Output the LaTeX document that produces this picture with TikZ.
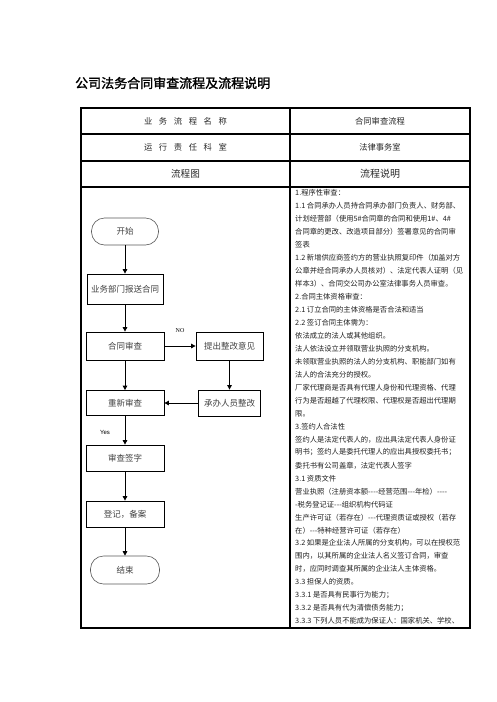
\documentclass[tikz,border=0pt]{standalone}
\usepackage{fontspec}
\setmainfont{Noto Sans CJK SC}[Ligatures=TeXOff]
\newfontfamily\titlefont[FakeBold=1.6]{Noto Sans CJK SC}
\newfontfamily\serifl{Liberation Serif}
\newfontfamily\sansl{Liberation Sans}
\usetikzlibrary{arrows.meta}
\newcommand{\gx}{\hspace{6.6pt}}
\begin{document}
\begin{tikzpicture}[x=1pt,y=-1pt,
  tbl/.style={line width=1.1pt},
  hdr/.style={inner sep=0pt, text=black!85, font=\fontsize{8.3}{10}\selectfont},
  box/.style={draw, line width=0.8pt, minimum width=78pt, minimum height=26pt, inner sep=0pt, text=black!75, font=\fontsize{8.5}{10}\selectfont},
  term/.style={draw=black!65, line width=0.6pt, rounded corners=13pt, minimum width=67pt, minimum height=27pt, inner sep=0pt, text=black!75, font=\fontsize{8.5}{10}\selectfont},
  arr/.style={-{Triangle[length=4.5pt,width=4.5pt]}, line width=0.9pt},
  desc/.style={anchor=west, inner sep=0pt, text=black!88, font=\fontsize{7.3}{9}\selectfont},
  lbl/.style={inner sep=0pt, font=\fontsize{6}{7}\selectfont}]
\useasboundingbox (0,0) rectangle (496,702);

% title
\node[anchor=west, inner sep=0pt, font=\fontsize{13}{15}\titlefont] (title) at (75,83) {公司法务合同审查流程及流程说明};

% table frame
\draw[tbl] (81,108) rectangle (470,628);
\draw[tbl] (81,134) -- (470,134);
\draw[tbl] (81,161) -- (470,161);
\draw[tbl] (81,187) -- (470,187);
\draw[tbl] (290,108) -- (290,628);

% header texts
\node[hdr] (h1) at (185.5,121) {业\gx 务\gx 流\gx 程\gx 名\gx 称};
\node[hdr] (h2) at (185.5,147.5) {运\gx 行\gx 责\gx 任\gx 科\gx 室};
\node[hdr, font=\fontsize{9.6}{11}\selectfont] (h3) at (185.5,174) {流程图};
\node[hdr] (r1) at (380,121) {合同审查流程};
\node[hdr] (r2) at (380,147.5) {法律事务室};
\node[hdr, font=\fontsize{10}{12}\selectfont] (r3) at (380,174) {流程说明};

% flowchart
\node[term] (start) at (125,231.5) {开始};
\node[box, minimum height=30pt, minimum width=76pt] (n1) at (125,289) {业务部门报送合同};
\node[box, minimum height=28pt] (n2) at (125,346) {合同审查};
\node[box, minimum height=28pt, minimum width=67pt] (n3) at (229.5,346) {提出整改意见};
\node[box, minimum height=25pt] (n4) at (125,403) {重新审查};
\node[box, minimum height=26pt, minimum width=62pt] (n5) at (229.5,403) {承办人员整改};
\node[box] (n6) at (125,458) {审查签字};
\node[box] (n7) at (125,514) {登记，备案};
\node[term, minimum width=69pt, minimum height=28pt] (end) at (125,570) {结束};

\draw[arr] (start) -- (n1);
\draw[arr] (n1) -- (n2);
\draw[arr] (n2) -- (n3);
\draw[arr] (n3) -- (n5);
\draw[arr] (n5) -- (n4);
\draw[arr] (n2) -- (n4);
\draw[arr] (n4) -- (n6);
\draw[arr] (n6) -- (n7);
\draw[arr] (n7) -- (end);

\node[lbl, font=\fontsize{6}{7}\serifl] (no) at (180,331) {NO};
\node[lbl, font=\fontsize{6}{7}\sansl] (yes) at (105,432) {Yes};

% description lines
\foreach \t [count=\i] in {
{1.程序性审查：},
{1.1 合同承办人员持合同承办部门负责人、财务部、},
{计划经营部（使用5\#合同章的合同和使用1\#、4\#},
{合同章的更改、改造项目部分）签署意见的合同审},
{签表},
{1.2 新增供应商签约方的营业执照复印件（加盖对方},
{公章并经合同承办人员核对）、法定代表人证明（见},
{样本3）、合同交公司办公室法律事务人员审查。},
{2.合同主体资格审查：},
{2.1 订立合同的主体资格是否合法和适当},
{2.2 签订合同主体需为：},
{依法成立的法人或其他组织。},
{法人依法设立并领取营业执照的分支机构。},
{未领取营业执照的法人的分支机构、职能部门如有},
{法人的合法充分的授权。},
{厂家代理商是否具有代理人身份和代理资格、代理},
{行为是否超越了代理权限、代理权是否超出代理期},
{限。},
{3.签约人合法性},
{签约人是法定代表人的，应出具法定代表人身份证},
{明书；签约人是委托代理人的应出具授权委托书；},
{委托书有公司盖章，法定代表人签字},
{3.1 资质文件},
{营业执照（注册资本额----经营范围---年检）----},
{-税务登记证---组织机构代码证},
{生产许可证（若存在）---代理资质证或授权（若存},
{在）---特种经营许可证（若存在）},
{3.2 如果是企业法人所属的分支机构，可以在授权范},
{围内，以其所属的企业法人名义签订合同，审查},
{时，应同时调查其所属的企业法人主体资格。},
{3.3 担保人的资质。},
{3.3.1 是否具有民事行为能力；},
{3.3.2 是否具有代为清偿债务能力；},
{3.3.3 下列人员不能成为保证人：国家机关、学校、}}
  \node[desc] (l\i) at (295,{193+(\i-1)*12.97}) {\t};
\end{tikzpicture}
\end{document}
